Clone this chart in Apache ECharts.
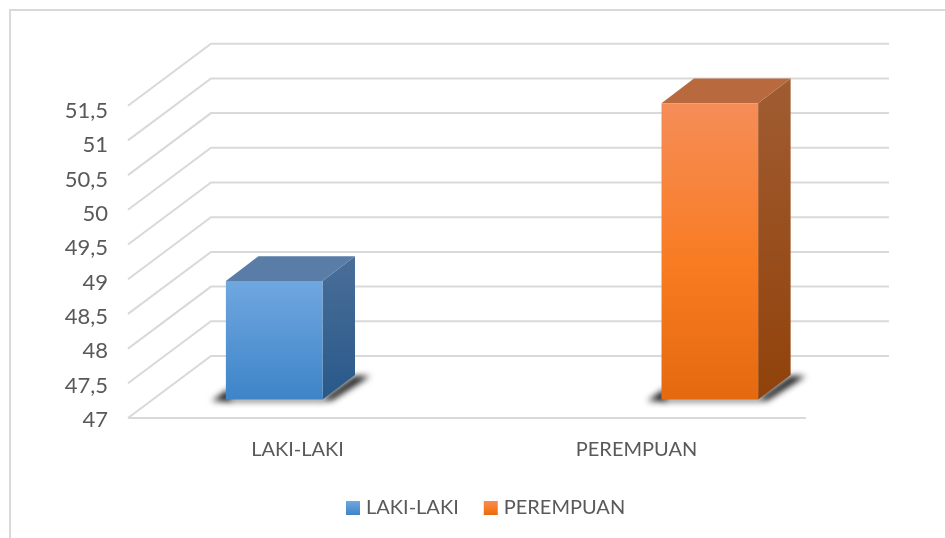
<!DOCTYPE html>
<html>
<head>
<meta charset="utf-8">
<style>
  html, body { margin: 0; padding: 0; background: #fff; }
  #chart { width: 945px; height: 538px; }
</style>
<script src="https://cdn.jsdelivr.net/npm/echarts@6/dist/echarts.min.js"></script>
</head>
<body>
<div id="chart"></div>
<script>
const categories = ['LAKI-LAKI', 'PEREMPUAN'];
const seriesNames = ['LAKI-LAKI', 'PEREMPUAN'];
const lakiValues = [48.71, null];
const perempuanValues = [null, 51.27];
const yTicks = [47, 47.5, 48, 48.5, 49, 49.5, 50, 50.5, 51, 51.5];

// fake 3d offsets, px
const WALL_DX = 83, WALL_DY = 62;     // front edge of the floor -> back wall
const BAR_NEAR_DX = 25, BAR_NEAR_DY = 18.4; // front edge -> front face of the bars
const BAR_DX = 32.5, BAR_DY = 24.7;   // depth of one bar
const BAR_BAND = 0.285;               // bar width as part of a category band
const OFFSCREEN = 3000;               // floor shadow is drawn away and only its blur lands on the chart

const gridColor = '#d9d9d9';
const textColor = '#595959';
const fontFamily = 'Lato';

function vGrad(top, bottom, mid) {
  const stops = mid
    ? [{ offset: 0, color: top }, { offset: 0.55, color: mid }, { offset: 1, color: bottom }]
    : [{ offset: 0, color: top }, { offset: 1, color: bottom }];
  return new echarts.graphic.LinearGradient(0, 0, 0, 1, stops);
}

const palettes = [
  { front: vGrad('#70a7e0', '#3d84c8'), top: '#597da6', side: vGrad('#4a6e98', '#28598a') },
  { front: vGrad('#f58d58', '#e4690f', '#f97b21'), top: '#b9693e', side: vGrad('#a05c32', '#91420a') }
];

// walls: one diagonal + one back line for every tick, the front line only at the bottom
function renderWall(params, api) {
  const value = api.value(1);
  const p = api.coord([0, value]);
  const cs = params.coordSys;
  const x0 = cs.x, x1 = cs.x + cs.width;
  const line = { stroke: gridColor, lineWidth: 2, fill: null };
  const points = [[x0, p[1]], [x0 + WALL_DX, p[1] - WALL_DY], [x1 + WALL_DX, p[1] - WALL_DY]];
  const children = [{ type: 'polyline', shape: { points }, style: line }];
  if (value === yTicks[0]) {
    children.push({ type: 'line', shape: { x1: x0, y1: p[1], x2: x1, y2: p[1] }, style: line });
  }
  return { type: 'group', children };
}

function shadowPart(points) {
  return {
    type: 'polygon',
    shape: { points: points.map((p) => [p[0] - OFFSCREEN, p[1]]) },
    style: { fill: '#000', shadowBlur: 6, shadowColor: 'rgba(20,20,20,1)', shadowOffsetX: OFFSCREEN }
  };
}

// bars sit in a plane behind the floor's front edge, two slots per category
function makeBarRenderer(seriesIndex) {
  return function (params, api) {
    if (isNaN(api.value(1))) return null;
    const pal = palettes[seriesIndex];
    const band = api.size([1, 0])[0];
    const w = band * BAR_BAND;
    const base = api.coord([api.value(0), yTicks[0]]);
    const topPt = api.coord([api.value(0), api.value(1)]);
    const cx = base[0] + BAR_NEAR_DX + (seriesIndex === 0 ? -w / 2 : w / 2);
    const xl = cx - w / 2, xr = cx + w / 2;
    const yb = base[1] - BAR_NEAR_DY, yt = topPt[1] - BAR_NEAR_DY;
    return {
      type: 'group',
      children: [
        shadowPart([[xl - 14, yb + 1.5], [xl + 4, yb - 11], [xl + 4, yb + 1.5]]),
        shadowPart([[xl, yb - 1], [xr, yb - 1], [xr, yb + 1.5], [xl, yb + 1.5]]),
        shadowPart([[xr - 2, yb + 1], [xr + BAR_DX, yb - BAR_DY + 1], [xr + BAR_DX + 15, yb - BAR_DY + 1], [xr + 9, yb + 1]]),
        {
          type: 'polygon',
          shape: { points: [[xr, yt], [xr + BAR_DX, yt - BAR_DY], [xr + BAR_DX, yb - BAR_DY], [xr, yb]] },
          style: { fill: pal.side }
        },
        {
          type: 'polygon',
          shape: { points: [[xl, yt], [xl + BAR_DX, yt - BAR_DY], [xr + BAR_DX, yt - BAR_DY], [xr, yt]] },
          style: { fill: pal.top }
        },
        {
          type: 'rect',
          shape: { x: xl, y: yt, width: w, height: yb - yt },
          style: { fill: pal.front }
        }
      ]
    };
  };
}

const chart = echarts.init(document.getElementById('chart'), null, { renderer: 'canvas' });

chart.setOption({
  animation: false,
  backgroundColor: '#fff',
  textStyle: { fontFamily },
  graphic: [
    // chart frame, only top and left are inside the crop
    { type: 'polyline', silent: true, shape: { points: [[10, 538], [10, 10], [945, 10]] }, style: { stroke: gridColor, lineWidth: 2, fill: null } }
  ],
  grid: [
    { left: 128, right: 139, top: 105.7, bottom: 120 },
    // tick labels in the reference are spaced a bit tighter than the walls
    { left: 128, right: 139, top: 111, bottom: 118 }
  ],
  legend: {
    data: seriesNames,
    left: 346,
    top: 498,
    padding: 0,
    icon: 'rect',
    itemWidth: 14,
    itemHeight: 14,
    itemGap: 25,
    textStyle: { color: textColor, fontSize: 20, fontFamily, padding: [0, 0, 0, 1] }
  },
  xAxis: [
    {
      type: 'category',
      data: categories,
      axisLine: { show: false },
      axisTick: { show: false },
      axisLabel: { color: textColor, fontSize: 20, fontFamily, margin: 22 }
    },
    { type: 'category', gridIndex: 1, data: categories, show: false }
  ],
  yAxis: [
    {
      type: 'value',
      min: 47,
      max: 51.5,
      interval: 0.5,
      axisLine: { show: false },
      axisTick: { show: false },
      splitLine: { show: false },
      axisLabel: { show: false }
    },
    {
      type: 'value',
      gridIndex: 1,
      min: 47,
      max: 51.5,
      interval: 0.5,
      axisLine: { show: false },
      axisTick: { show: false },
      splitLine: { show: false },
      axisLabel: {
        color: textColor,
        fontSize: 22,
        fontFamily,
        margin: 20,
        formatter: (v) => String(v).replace('.', ',')
      }
    }
  ],
  series: [
    {
      name: 'walls',
      type: 'custom',
      silent: true,
      z: 1,
      renderItem: renderWall,
      encode: { x: 0, y: 1 },
      data: yTicks.map((v) => [0, v])
    },
    {
      name: seriesNames[0],
      type: 'custom',
      z: 2,
      renderItem: makeBarRenderer(0),
      encode: { x: 0, y: 1 },
      itemStyle: { color: palettes[0].front },
      data: lakiValues.map((v, i) => [i, v])
    },
    {
      name: seriesNames[1],
      type: 'custom',
      z: 2,
      renderItem: makeBarRenderer(1),
      encode: { x: 0, y: 1 },
      itemStyle: { color: palettes[1].front },
      data: perempuanValues.map((v, i) => [i, v])
    }
  ]
});
</script>
</body>
</html>
